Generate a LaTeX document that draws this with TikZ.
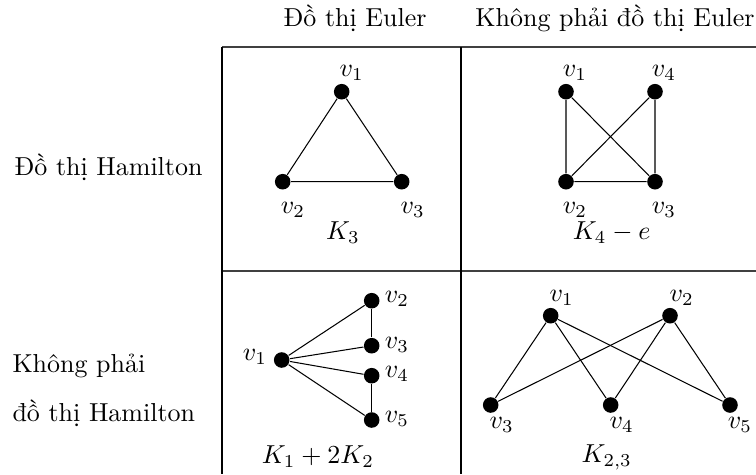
\documentclass[tikz,border=0pt]{standalone}
\usepackage{fontspec}
\begin{document}
\begin{tikzpicture}[x=0.385pt,y=-0.385pt,
  vtx/.style={circle,fill=black,inner sep=0pt,minimum size=6pt},
  lbl/.style={inner sep=0pt},
  edge/.style={line width=0.4pt},
  hrule/.style={line width=0.6pt,black!75},
  vrule/.style={line width=0.45pt,black}]
\useasboundingbox (0,0) rectangle (756,474);
% table lines
\coordinate (tl) at (222,47); \coordinate (tr) at (756,47);
\coordinate (ml) at (222,271); \coordinate (mr) at (756,271);
\coordinate (bl) at (222,474); \coordinate (tm) at (461,47); \coordinate (bm) at (461,474);
\draw[hrule] (tl) -- (tr);
\draw[hrule] (ml) -- (mr);
\draw[vrule] (tl) -- (bl);
\draw[vrule] (tm) -- (bm);
% headers
\node[lbl] (h1) at (355,18) {Đồ thị Euler};
\node[lbl] (h2) at (615,18) {Không phải đồ thị Euler};
\node[lbl,anchor=west] (r1) at (14,167) {Đồ thị Hamilton};
\node[lbl,anchor=west] (r2a) at (12,366) {Không phải};
\node[lbl,anchor=west] (r2b) at (12,413) {đồ thị Hamilton};
% K3
\node[vtx] (a1) at (341.7,91.7) {};
\node[vtx] (a2) at (282.7,181.7) {};
\node[vtx] (a3) at (401.7,181.7) {};
\draw[edge] (a1) -- (a2) -- (a3) -- (a1);
\node[lbl] (la1) at (351.7,73) {$v_1$};
\node[lbl] (la2) at (293,210) {$v_2$};
\node[lbl] (la3) at (412.7,210) {$v_3$};
\node[lbl] (ta) at (343,233) {$K_3$};
% K4 - e
\node[vtx] (b1) at (566,91.7) {};
\node[vtx] (b4) at (655,91.7) {};
\node[vtx] (b2) at (566,181.7) {};
\node[vtx] (b3) at (655,181.7) {};
\draw[edge] (b1) -- (b2) -- (b3) -- (b4) -- (b2);
\draw[edge] (b1) -- (b3);
\node[lbl] (lb1) at (575,73) {$v_1$};
\node[lbl] (lb4) at (664,73) {$v_4$};
\node[lbl] (lb2) at (575,210) {$v_2$};
\node[lbl] (lb3) at (664,210) {$v_3$};
\node[lbl] (tb) at (611.7,233) {$K_4-e$};
% K1 + 2K2
\node[vtx] (c1) at (281.7,360) {};
\node[vtx] (c2) at (371.7,300.7) {};
\node[vtx] (c3) at (371.7,345.7) {};
\node[vtx] (c4) at (371.7,375.7) {};
\node[vtx] (c5) at (371.7,420) {};
\draw[edge] (c1) -- (c2); \draw[edge] (c1) -- (c3);
\draw[edge] (c1) -- (c4); \draw[edge] (c1) -- (c5);
\draw[edge] (c2) -- (c3); \draw[edge] (c4) -- (c5);
\node[lbl] (lc1) at (255,357) {$v_1$};
\node[lbl] (lc2) at (397,299) {$v_2$};
\node[lbl] (lc3) at (397,345) {$v_3$};
\node[lbl] (lc4) at (397,374) {$v_4$};
\node[lbl] (lc5) at (397,419) {$v_5$};
\node[lbl] (tc) at (318,457) {$K_1+2K_2$};
% K2,3
\node[vtx] (d1) at (550.7,315.7) {};
\node[vtx] (d2) at (670,315.7) {};
\node[vtx] (d3) at (490.7,405) {};
\node[vtx] (d4) at (610.7,405) {};
\node[vtx] (d5) at (730,405) {};
\foreach \u in {d1,d2}{\foreach \w in {d3,d4,d5}{\draw[edge] (\u) -- (\w);}}
\node[lbl] (ld1) at (561.7,298) {$v_1$};
\node[lbl] (ld2) at (681.7,298) {$v_2$};
\node[lbl] (ld3) at (501.7,425) {$v_3$};
\node[lbl] (ld4) at (621.7,425) {$v_4$};
\node[lbl] (ld5) at (740,425) {$v_5$};
\node[lbl] (td) at (606.7,457) {$K_{2,3}$};
\end{tikzpicture}
\end{document}
